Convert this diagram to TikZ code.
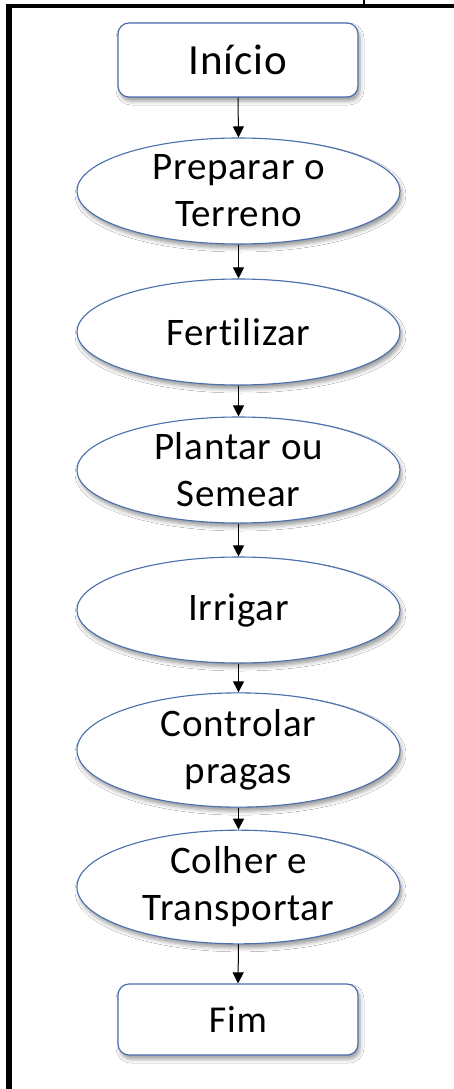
\documentclass[tikz,border=0pt]{standalone}
\usepackage{fontspec}
\setmainfont{Carlito}[Ligatures=NoCommon,LetterSpace=2]
\usetikzlibrary{shapes.geometric,arrows.meta,shadows.blur}
\definecolor{edgeblue}{HTML}{4A6FAE}
\tikzset{
  shade/.style={blur shadow={shadow xshift=2pt,shadow yshift=-4pt,shadow blur radius=4pt,shadow opacity=40}},
  termbox/.style={draw=edgeblue,line width=1.2pt,fill=white,rounded corners=11pt,minimum width=240pt,inner sep=0pt,shade},
  stepell/.style={ellipse,draw=edgeblue,line width=1.1pt,fill=white,minimum width=323pt,minimum height=106pt,inner sep=0pt,align=center,shade,font=\fontsize{39}{47}\selectfont},
  flow/.style={line width=1pt,-{Triangle[length=11pt,width=11pt]}},
}
\begin{document}
\begin{tikzpicture}[x=1pt,y=-1pt]
\useasboundingbox (0,0) rectangle (454,1089);
\fill[white] (0,0) rectangle (454,1089);
% frame
\coordinate (fl) at (9,1089);
\coordinate (fr) at (454,6.5);
\draw[line width=6pt] (fl) -- (9,4);
\draw[line width=4pt] (6,6.5) -- (fr);
\coordinate (tk1) at (364,0);
\coordinate (tk2) at (364,6);
\draw[line width=2pt] (tk1) -- (tk2);
% nodes
\node[termbox,minimum height=74pt,font=\fontsize{43}{50}\selectfont] (inicio) at (238,60) {Início};
\node[stepell] (prep) at (238.5,191) {Preparar o\\Terreno};
\node[stepell] (fert) at (238.5,332) {Fertilizar};
\node[stepell] (plant) at (238.5,470) {Plantar ou\\Semear};
\node[stepell] (irr) at (238.5,610) {Irrigar};
\node[stepell] (ctrl) at (238.5,750) {Controlar\\pragas};
\node[stepell] (colh) at (238.5,887) {Colher e\\Transportar};
\node[termbox,minimum height=71pt,font=\fontsize{38}{45}\selectfont] (fim) at (238,1019.5) {Fim};
% connectors
\draw[flow] (inicio.south) -- (prep.north);
\draw[flow] (prep.south) -- (fert.north);
\draw[flow] (fert.south) -- (plant.north);
\draw[flow] (plant.south) -- (irr.north);
\draw[flow] (irr.south) -- (ctrl.north);
\draw[flow] (ctrl.south) -- (colh.north);
\draw[flow] (colh.south) -- (fim.north);
\end{tikzpicture}
\end{document}
